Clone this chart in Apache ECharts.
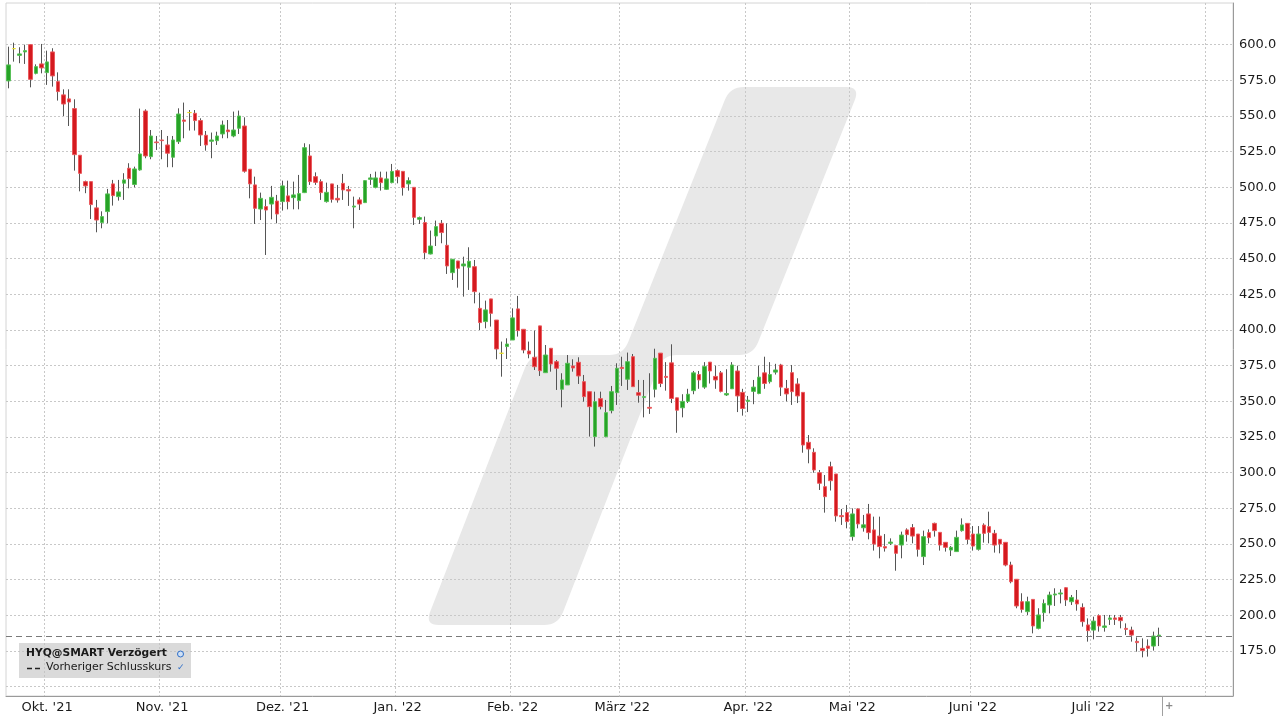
<!DOCTYPE html>
<html><head><meta charset="utf-8">
<script src="https://cdn.jsdelivr.net/npm/echarts@6/dist/echarts.min.js"></script>
<style>html,body{margin:0;padding:0;background:#fff}#c{width:1280px;height:720px}</style>
</head><body><div id="c"></div>
<script>
// ---- data (HYQ daily candles, 22 Sep 2021 .. 19 Jul 2022) ----
const opens = [574.6,597.2,592.5,594.9,600.0,579.9,586.5,580.4,594.9,574.1,564.8,562.0,555.2,522.5,504.0,504.0,485.6,475.3,483.0,502.4,
493.5,502.9,513.4,502.0,512.2,553.5,521.5,531.8,533.2,529.7,521.1,532.0,547.2,552.4,551.9,546.8,536.5,532.3,532.7,537.4,
540.2,536.0,541.4,543.0,512.7,501.7,484.8,486.5,488.3,490.4,490.0,494.0,492.8,490.7,496.3,522.0,507.5,504.0,490.0,502.4,
492.3,502.8,498.4,486.2,491.2,489.3,505.6,500.0,506.6,498.6,503.3,511.7,511.2,502.4,500.0,477.6,475.3,453.3,465.9,474.8,
459.4,440.2,448.4,444.9,444.0,444.4,415.2,405.9,421.8,407.0,383.7,388.4,393.0,414.8,400.5,385.3,380.9,402.9,370.1,387.2,
377.8,358.5,361.5,374.8,377.4,363.8,356.8,325.3,351.9,325.3,343.5,356.1,373.9,365.5,381.3,356.1,352.8,345.8,358.5,383.8,
367.5,377.0,352.5,345.5,350.0,357.5,368.8,360.0,377.5,367.5,370.0,354.5,358.8,371.3,356.3,350.0,357.0,355.5,370.0,363.8,
370.5,375.5,359.1,370.1,362.2,356.3,321.3,314.3,300.0,290.2,304.2,299.1,269.9,272.0,255.2,274.6,261.4,271.1,259.9,255.6,
248.2,250.5,248.9,249.3,259.9,261.5,257.0,241.2,258.0,264.5,258.2,251.2,245.8,244.7,259.4,264.5,257.0,246.3,263.3,262.2,
257.5,253.3,251.2,235.3,225.3,209.6,202.6,211.2,190.9,201.9,207.3,214.3,215.0,219.4,209.6,210.8,205.6,193.3,189.7,199.8,
191.6,197.2,198.2,198.6,190.9,189.7,181.8,176.9,178.5,178.5,185.5];
const closes = [585.8,597.2,593.5,595.8,575.7,584.6,583.7,587.9,578.1,567.1,558.4,559.8,522.9,509.8,501.0,487.9,477.1,479.5,495.4,494.2,
496.8,505.2,506.1,512.9,523.4,522.0,536.0,531.3,532.7,523.9,533.2,551.4,546.3,552.4,546.8,536.7,529.7,533.2,536.0,543.7,
539.0,540.2,550.0,511.3,502.4,485.3,492.3,484.1,493.0,481.3,501.0,490.0,494.7,495.6,527.8,504.0,503.5,496.3,496.5,491.6,
491.2,498.2,497.5,486.9,488.3,504.7,506.6,506.6,503.3,505.9,511.2,507.5,499.8,504.7,479.0,478.8,454.2,458.9,472.5,468.3,
444.9,449.6,443.3,446.3,448.2,426.9,405.2,414.1,411.7,386.7,383.7,390.2,408.5,399.6,386.0,383.2,374.3,371.5,382.5,376.2,
373.2,365.0,376.7,373.4,367.8,353.3,346.3,349.8,346.3,342.1,356.8,373.2,373.0,377.8,360.3,354.3,353.3,345.2,380.2,362.5,
366.8,352.0,343.8,350.0,355.0,370.0,365.0,374.5,371.3,365.0,357.0,355.5,375.5,353.8,345.0,350.8,360.0,367.0,362.5,368.8,
372.0,360.0,355.2,356.8,353.8,319.4,316.6,301.9,292.6,283.2,294.4,269.7,269.2,265.7,271.1,264.1,263.5,258.0,250.0,248.2,
247.2,251.4,243.5,256.3,256.6,255.6,246.3,255.2,254.5,259.4,249.3,247.7,247.7,254.7,263.4,253.3,248.6,257.0,257.5,258.2,
249.3,250.0,235.3,223.6,206.6,204.2,209.6,192.6,200.3,208.4,214.3,215.0,215.7,210.8,212.6,208.0,195.6,189.3,196.0,192.6,
192.6,198.2,197.2,196.3,190.2,186.2,180.9,175.3,176.9,185.5,186.2];
const lows = [569.4,588.1,587.0,586.5,570.1,579.2,579.9,571.8,570.6,560.8,550.0,543.0,511.7,497.2,495.9,477.8,468.5,471.3,474.8,487.2,
490.7,491.2,499.3,500.0,511.7,520.4,519.7,526.2,519.7,514.1,514.1,530.4,534.4,539.8,539.8,529.0,525.7,520.4,529.7,534.4,
534.4,535.1,537.4,510.3,492.3,474.3,477.1,452.6,477.6,474.8,483.7,484.6,484.6,484.6,496.0,501.7,501.7,491.2,489.3,489.3,
489.3,491.2,487.0,471.3,484.1,489.0,501.7,499.3,497.7,498.2,502.8,502.8,494.2,497.7,473.6,474.3,449.6,453.0,458.9,460.8,
439.3,435.1,429.7,423.4,428.1,418.7,400.0,401.2,402.4,379.5,367.3,379.7,393.0,395.4,383.7,380.2,372.0,367.8,370.0,370.8,
358.0,345.8,361.5,370.8,362.2,349.8,325.3,318.3,344.4,324.8,341.6,347.5,360.8,358.0,360.3,349.1,338.8,341.2,352.8,360.0,
357.5,348.8,328.0,338.8,348.8,355.0,358.8,358.8,362.5,358.8,356.3,353.8,358.8,342.5,340.0,342.5,348.0,355.0,358.8,362.5,
368.8,353.8,350.0,347.5,348.8,314.0,306.6,300.0,287.9,272.0,287.5,265.7,263.4,261.0,252.4,261.0,258.7,253.3,245.4,240.0,
244.7,249.3,231.3,240.0,251.7,250.5,241.2,235.3,250.5,255.2,245.4,244.7,241.6,244.7,258.7,250.0,245.4,245.4,251.0,250.5,
244.0,243.5,234.4,222.5,205.0,201.9,200.3,187.4,190.2,195.6,201.4,206.6,208.4,206.6,207.3,203.3,192.1,181.6,183.2,188.6,
188.6,193.3,193.3,190.9,186.2,181.6,174.6,170.6,171.1,175.3,178.5];
const highs = [598.6,601.4,598.2,600.0,600.2,586.2,600.5,595.8,597.5,580.6,568.7,568.7,561.7,522.5,504.7,504.0,491.2,483.2,498.9,505.2,
505.2,509.9,516.9,514.5,555.2,554.7,540.2,536.0,540.2,536.0,536.0,555.4,559.4,554.2,554.2,548.4,539.5,538.4,539.0,546.8,
547.2,553.1,553.8,549.1,512.7,507.5,496.3,491.6,501.0,494.7,504.7,504.7,504.0,508.7,530.9,530.2,510.5,505.6,503.3,502.4,
501.7,509.4,501.0,493.5,493.0,505.0,509.4,511.0,511.0,511.0,516.4,512.6,511.2,507.0,500.0,479.5,479.5,469.7,476.7,477.1,
474.8,449.6,448.4,451.4,458.0,449.1,426.2,420.6,421.8,407.0,391.9,394.2,415.2,423.9,400.5,391.9,399.6,402.9,389.5,387.2,
379.0,369.7,382.5,379.5,380.9,368.5,356.8,356.8,356.8,351.0,360.8,376.7,381.3,384.2,383.2,365.0,365.0,369.7,386.9,383.8,
377.5,390.0,352.5,355.0,358.8,371.3,371.3,377.5,377.5,375.0,371.3,372.5,377.5,375.0,358.8,353.8,365.0,375.0,381.3,377.5,
376.3,376.3,365.0,375.5,366.2,356.3,326.4,317.1,301.9,298.4,307.7,299.1,274.6,277.4,275.0,275.0,270.4,278.1,269.2,269.2,
257.0,254.0,248.9,258.7,261.0,264.0,257.0,259.4,260.3,265.0,258.2,251.2,248.6,259.4,268.0,264.5,262.6,262.6,264.5,272.7,
259.9,253.3,251.2,237.6,225.3,215.5,213.1,211.2,205.0,211.2,216.6,219.0,218.3,219.6,214.3,217.8,208.4,197.9,199.1,200.7,
200.3,200.3,200.3,200.3,194.4,192.1,184.6,183.9,183.2,188.6,191.4];
const prevClose = 185.5;
const yGridValues = [150,175,200,225,250,275,300,325,350,375,400,425,450,475,500,525,550,575,600];
const yLabelValues = [175,200,225,250,275,300,325,350,375,400,425,450,475,500,525,550,575,600];
const monthNames = ["Jan.","Feb.","März","Apr.","Mai","Juni","Juli","Aug.","Sep.","Okt.","Nov.","Dez."];
const holidays = ["2021-12-24","2021-12-31","2022-04-15","2022-04-18"];
const axisStart = "2021-09-22", axisEnd = "2022-08-05";
const unlabeledMonths = ["2022-08"];

// ---- trading-day categories ----
function buildDays(){
  const out=[]; let t=Date.parse(axisStart+"T00:00:00Z"); const end=Date.parse(axisEnd+"T00:00:00Z");
  while(t<=end){ const d=new Date(t); const wd=d.getUTCDay(); const s=d.toISOString().slice(0,10);
    if(wd!==0&&wd!==6&&holidays.indexOf(s)<0) out.push(s); t+=86400000; }
  return out;
}
const days = buildDays();
const monthStart = new Set(), labelIdx = new Set();
days.forEach((d,i)=>{ if(i>0 && d.slice(0,7)!==days[i-1].slice(0,7)){ monthStart.add(i); if(unlabeledMonths.indexOf(d.slice(0,7))<0) labelIdx.add(i);} });
function monthLabel(s){ const m=+s.slice(5,7); return monthNames[m-1]+" '"+s.slice(2,4); }

const wickData = opens.map((o,i)=>[o,closes[i],lows[i],highs[i]]);
const bodyData = opens.map((o,i)=>[o,closes[i],Math.min(o,closes[i]),Math.max(o,closes[i])]);

// watermark outline (decoration only)
const wmPts = [[730,87],[860,87],[753,355],[663,355],[558,625],[425,625],[530,355],[623,355]];
function roundedPoly(pts, r){
  const n=pts.length, out=[];
  for(let i=0;i<n;i++){
    const p=pts[i], a=pts[(i-1+n)%n], b=pts[(i+1)%n];
    const la=Math.hypot(a[0]-p[0],a[1]-p[1]), lb=Math.hypot(b[0]-p[0],b[1]-p[1]);
    const ra=Math.min(r,la/2), rb=Math.min(r,lb/2);
    const p0=[p[0]+(a[0]-p[0])*ra/la,p[1]+(a[1]-p[1])*ra/la], p2=[p[0]+(b[0]-p[0])*rb/lb,p[1]+(b[1]-p[1])*rb/lb];
    for(let k=0;k<=8;k++){ const t=k/8, u=1-t;
      out.push([u*u*p0[0]+2*u*t*p[0]+t*t*p2[0], u*u*p0[1]+2*u*t*p[1]+t*t*p2[1]]); }
  }
  return out;
}

const chart = echarts.init(document.getElementById('c'), null, {renderer:'canvas'});
const FF = '"DejaVu Sans", Verdana, sans-serif';
chart.setOption({
  animation:false,
  backgroundColor:'#ffffff',
  textStyle:{fontFamily:FF},
  grid:{left:6, right:47, top:3, bottom:24, show:true, borderColor:'#d4d4d4', borderWidth:1, backgroundColor:'transparent'},
  xAxis:{
    type:'category', data:days, boundaryGap:true,
    axisLine:{show:true, lineStyle:{color:'#9a9a9a', width:1}},
    axisTick:{show:false},
    axisLabel:{interval:(i)=>labelIdx.has(i), formatter:(v)=>monthLabel(v), color:'#1a1a1a', fontSize:13, fontFamily:FF, margin:5},
    splitLine:{show:true, interval:(i)=>monthStart.has(i), lineStyle:{color:'#c8c8c8', type:[2,2], width:1}}
  },
  yAxis:{
    type:'value', position:'right', min:143.5, max:629.2, scale:true,
    axisLine:{show:true, lineStyle:{color:'#9a9a9a', width:1}},
    axisTick:{show:false, customValues:yGridValues},
    axisLabel:{customValues:yLabelValues, formatter:(v)=>Number(v).toFixed(1), color:'#1a1a1a', fontSize:13, fontFamily:FF, margin:6},
    splitLine:{show:true, lineStyle:{color:'#c8c8c8', type:[2,2], width:1}}
  },
  series:[
    { type:'candlestick', name:'wick', data:wickData, barWidth:1, silent:true, z:2,
      itemStyle:{color:'#555', color0:'#555', borderColor:'#555', borderColor0:'#555', borderColorDoji:'#555', borderWidth:1} },
    { type:'candlestick', name:'HYQ@SMART', data:bodyData, barWidth:4, silent:true, z:3,
      itemStyle:{color:'#27a327', color0:'#d41a1f', borderColor:'#58c058', borderColor0:'#ea5a5e', borderColorDoji:'#e8dc2a', borderWidth:1},
      markLine:{silent:true, symbol:['none','none'], label:{show:false}, data:[{yAxis:prevClose}],
        lineStyle:{color:'#7a7a7a', type:[6,4], width:1}, animation:false}
    }
  ],
  graphic:[
    {type:'polygon', z:-1, silent:true, shape:{points:roundedPoly(wmPts,14)}, style:{fill:'#e8e8e8'}},
    {type:'rect', z:50, shape:{x:19, y:643, width:172, height:35}, style:{fill:'rgba(196,196,196,0.62)'}},
    {type:'text', z:51, x:26, y:648, style:{text:'HYQ@SMART Verzögert', font:'bold 10.7px '+FF, fill:'#1a1a1a', verticalAlign:'top'}},
    {type:'circle', z:51, shape:{cx:180.5, cy:654, r:3}, style:{fill:'#cfe0f5', stroke:'#2f6fc8', lineWidth:1}},
    {type:'line', z:51, shape:{x1:27, y1:668.5, x2:42, y2:668.5}, style:{stroke:'#222', lineWidth:1.5, lineDash:[5,3]}},
    {type:'text', z:51, x:46, y:662, style:{text:'Vorheriger Schlusskurs', font:'11px '+FF, fill:'#1a1a1a', verticalAlign:'top'}},
    {type:'text', z:51, x:177, y:663, style:{text:'✓', font:'bold 9px '+FF, fill:'#2f6fc8', verticalAlign:'top'}},
    {type:'line', z:51, shape:{x1:1162.5, y1:697, x2:1162.5, y2:716}, style:{stroke:'#a0a0a0', lineWidth:1}},
    {type:'text', z:51, x:1165, y:701, style:{text:'+', font:'bold 10px '+FF, fill:'#8a8a8a', verticalAlign:'top'}}
  ]
});
</script>
</body></html>
